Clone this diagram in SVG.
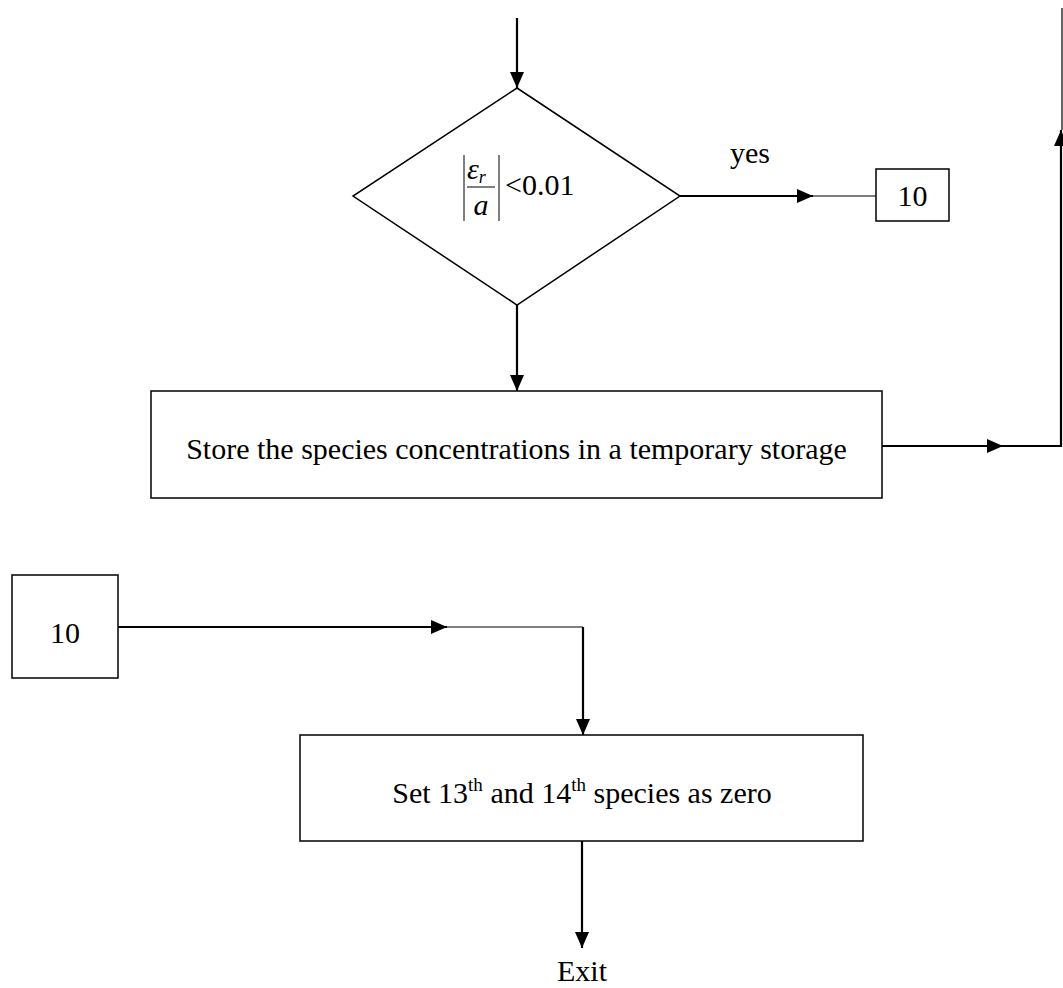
<svg xmlns="http://www.w3.org/2000/svg" width="1063" height="988" viewBox="0 0 1063 988">
  <style>
    .shape { fill: #ffffff; stroke: #000000; stroke-width: 1.5; }
    .txt { font-family: "Liberation Serif", "Times New Roman", serif; font-size: 30px; fill: #000000; }
    .sup { font-size: 19px; }
    .flow { fill: none; stroke: #000000; stroke-width: 2.2; }
    .thin { fill: none; stroke: #000000; stroke-width: 1.2; }
    .bar { stroke: #000000; stroke-width: 1; }
  </style>
  <defs>
    <marker id="arrow" markerUnits="userSpaceOnUse" markerWidth="16" markerHeight="14" refX="16" refY="7" orient="auto">
      <path d="M0,0 L16,7 L0,14 Z" fill="#000000"/>
    </marker>
  </defs>

  <rect width="1063" height="988" fill="#ffffff"/>

  <!-- connectors -->
  <g id="connectors">
    <line class="flow" x1="517" y1="18" x2="517" y2="88" marker-end="url(#arrow)"/>
    <line class="flow" x1="680" y1="196" x2="813" y2="196" marker-end="url(#arrow)"/>
    <line class="thin" x1="813" y1="196" x2="876" y2="196"/>
    <line class="flow" x1="517" y1="305" x2="517" y2="391" marker-end="url(#arrow)"/>
    <line class="flow" x1="882" y1="446" x2="1003" y2="446" marker-end="url(#arrow)"/>
    <polyline class="flow" points="1003,446 1061,446 1061,130" marker-end="url(#arrow)"/>
    <line class="thin" x1="1062" y1="130" x2="1062" y2="8"/>
    <line class="flow" x1="118" y1="627" x2="447" y2="627" marker-end="url(#arrow)"/>
    <polyline class="thin" points="447,627 583,627"/>
    <line class="flow" x1="583" y1="627" x2="583" y2="735" marker-end="url(#arrow)"/>
    <line class="flow" x1="582" y1="841" x2="582" y2="948" marker-end="url(#arrow)"/>
  </g>

  <!-- decision: relative error test -->
  <g id="decision">
    <polygon class="shape" points="517,88 680,196 517,305 353,196"/>
    <line class="bar" x1="464" y1="155" x2="464" y2="221"/>
    <line class="bar" x1="499" y1="155" x2="499" y2="221"/>
    <line class="bar" x1="467" y1="187" x2="495" y2="187"/>
    <text class="txt" x="467" y="179" font-size="30" font-style="italic">ε<tspan font-size="18" dy="4">r</tspan></text>
    <text class="txt" x="481" y="215" font-size="29" font-style="italic" text-anchor="middle">a</text>
    <text class="txt" x="505" y="195" font-size="28">&lt;0.01</text>
  </g>

  <!-- branch label -->
  <g id="label-yes">
    <text class="txt" x="750" y="163" text-anchor="middle">yes</text>
  </g>

  <!-- connector 10 (outgoing) -->
  <g id="connector-10-out">
    <rect class="shape" x="876" y="169" width="73" height="52"/>
    <text class="txt" x="912.5" y="206" text-anchor="middle">10</text>
  </g>

  <!-- process: store concentrations -->
  <g id="store">
    <rect class="shape" x="151" y="391" width="731" height="107"/>
    <text class="txt" x="516.5" y="459" text-anchor="middle">Store the species concentrations in a temporary storage</text>
  </g>

  <!-- connector 10 (incoming) -->
  <g id="connector-10-in">
    <rect class="shape" x="12" y="575" width="106" height="103"/>
    <text class="txt" x="65" y="643" text-anchor="middle">10</text>
  </g>

  <!-- process: zero species -->
  <g id="set-zero">
    <rect class="shape" x="300" y="735" width="563" height="106"/>
    <text class="txt" x="582" y="803" text-anchor="middle">Set 13<tspan class="sup" dy="-12">th</tspan><tspan dy="12"> and 14</tspan><tspan class="sup" dy="-12">th</tspan><tspan dy="12"> species as zero</tspan></text>
  </g>

  <!-- terminal -->
  <g id="exit">
    <text class="txt" x="582" y="981" text-anchor="middle">Exit</text>
  </g>
</svg>
